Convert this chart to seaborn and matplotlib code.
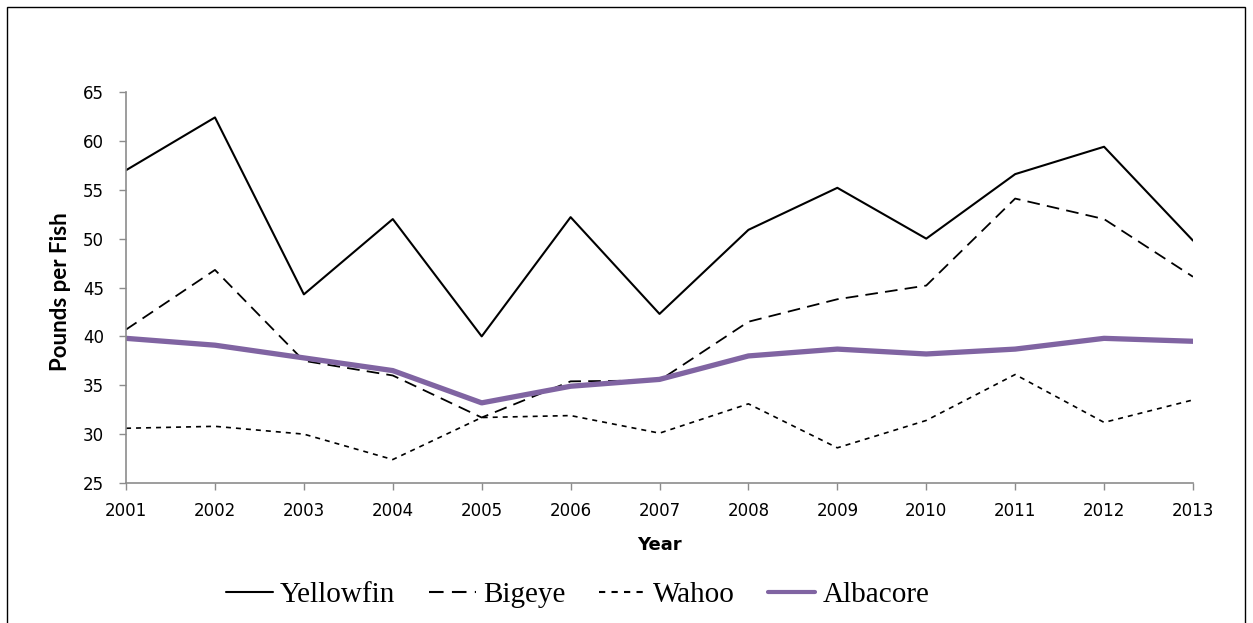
import numpy as np
import pandas as pd
import matplotlib.pyplot as plt
import matplotlib.patches as mpatches
import seaborn as sns

# ── Data ────────────────────────────────────────────────────
years = [2001, 2002, 2003, 2004, 2005, 2006, 2007, 2008, 2009, 2010, 2011, 2012, 2013]
yellowfin = [57.0, 62.4, 44.3, 52.0, 40.0, 52.2, 42.3, 50.9, 55.2, 50.0, 56.6, 59.4, 49.8]
bigeye    = [40.7, 46.8, 37.5, 36.0, 31.7, 35.4, 35.5, 41.5, 43.8, 45.2, 54.1, 52.0, 46.1]
wahoo     = [30.6, 30.8, 30.0, 27.4, 31.7, 31.9, 30.1, 33.1, 28.6, 31.4, 36.1, 31.2, 33.5]
albacore  = [39.8, 39.1, 37.8, 36.5, 33.2, 34.9, 35.6, 38.0, 38.7, 38.2, 38.7, 39.8, 39.5]

df = pd.DataFrame({'Year': years, 'Yellowfin': yellowfin, 'Bigeye': bigeye,
                   'Wahoo': wahoo, 'Albacore': albacore})
long = df.melt(id_vars='Year', var_name='Species', value_name='Pounds')

styles = {
    'Yellowfin': dict(color='black', lw=1.5, dashes=None),
    'Bigeye':    dict(color='black', lw=1.3, dashes=(7, 4)),
    'Wahoo':     dict(color='black', lw=1.2, dashes=(3, 3)),
    'Albacore':  dict(color='#8064A2', lw=3.8, dashes=None),
}

sns.set_style('white')
plt.rcParams['font.family'] = ['DejaVu Sans']
plt.rcParams['text.color'] = 'black'
plt.rcParams['axes.labelcolor'] = 'black'
plt.rcParams['xtick.color'] = 'black'
plt.rcParams['ytick.color'] = 'black'

fig = plt.figure(figsize=(12.53, 6.23), dpi=100)
ax = fig.add_axes([0.1006, 0.2247, 0.8515, 0.6276])

for sp, st in styles.items():
    sub = long[long['Species'] == sp]
    sns.lineplot(data=sub, x='Year', y='Pounds', ax=ax, color=st['color'],
                 linewidth=st['lw'], label=sp)
    if st['dashes'] is not None:
        ax.get_lines()[-1].set_dashes(st['dashes'])

ax.set_xlim(2001, 2013)
ax.set_ylim(25, 65)
ax.set_xticks(years)
ax.set_yticks(range(25, 70, 5))
ax.tick_params(axis='both', which='both', direction='out', length=5,
               color='#8c8c8c', labelcolor='black', width=1, labelsize=12)
ax.tick_params(axis='x', bottom=True, pad=9)
ax.tick_params(axis='y', left=True, pad=11)
for s in ['top', 'right']:
    ax.spines[s].set_visible(False)
for s in ['left', 'bottom']:
    ax.spines[s].set_color('#8c8c8c')
    ax.spines[s].set_linewidth(1.2)

ax.set_xlabel('Year', fontsize=13, fontweight='bold', color='black')
ax.set_ylabel('Pounds per Fish', fontsize=16, fontweight='bold', family='Lato', color='black')
ax.xaxis.set_label_coords(0.5, -0.135)
ax.yaxis.set_label_coords(-0.052, 0.49)

ax.get_legend().remove()
handles, labels = ax.get_legend_handles_labels()
leg = fig.legend(handles, labels, loc='center', bbox_to_anchor=(0.461, 0.045),
                 ncol=4, frameon=False, handlelength=1.6, handletextpad=0.25,
                 columnspacing=1.15, labelcolor='black',
                 prop={'family': 'Liberation Serif', 'size': 21})
for h, sp in zip(leg.get_lines(), labels):
    st = styles[sp]
    h.set_linewidth(1.5 if sp != 'Albacore' else 3)
    if st['dashes'] is not None:
        h.set_dashes(st['dashes'])

# outer frame
fig.patches.append(mpatches.Rectangle((0.0056, -0.01), 0.988, 0.9988,
                                      transform=fig.transFigure, fill=False,
                                      edgecolor='black', linewidth=1))

plt.savefig('out.png', dpi=100)
plt.close()
